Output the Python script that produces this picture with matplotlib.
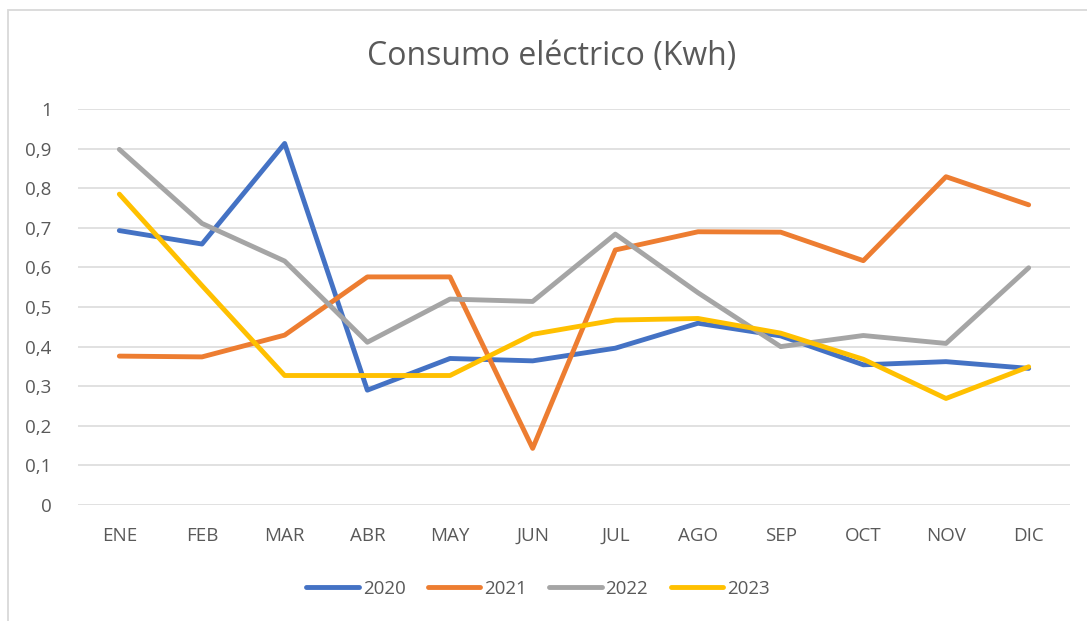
import matplotlib
matplotlib.use("Agg")
import matplotlib.pyplot as plt
from matplotlib.patches import Rectangle

months = ["ENE", "FEB", "MAR", "ABR", "MAY", "JUN", "JUL", "AGO", "SEP", "OCT", "NOV", "DIC"]
s2020 = [0.693, 0.659, 0.913, 0.290, 0.370, 0.364, 0.396, 0.459, 0.427, 0.354, 0.362, 0.345]
s2021 = [0.376, 0.374, 0.429, 0.576, 0.576, 0.143, 0.644, 0.690, 0.689, 0.617, 0.829, 0.758]
s2022 = [0.898, 0.711, 0.616, 0.411, 0.520, 0.514, 0.684, 0.536, 0.400, 0.428, 0.408, 0.599]
s2023 = [0.785, 0.554, 0.327, 0.327, 0.327, 0.431, 0.467, 0.471, 0.434, 0.368, 0.269, 0.349]
series_names = ["2020", "2021", "2022", "2023"]
colors = ["#4472C4", "#ED7D31", "#A5A5A5", "#FFC000"]
yticks = [0, 0.1, 0.2, 0.3, 0.4, 0.5, 0.6, 0.7, 0.8, 0.9, 1]
ytick_labels = ["0", "0,1", "0,2", "0,3", "0,4", "0,5", "0,6", "0,7", "0,8", "0,9", "1"]
title = "Consumo eléctrico (Kwh)"

W, H = 1087, 621
plt.rcParams['font.family'] = ['Open Sans', 'DejaVu Sans']
fig = plt.figure(figsize=(W / 100, H / 100), dpi=100)
fig.patch.set_facecolor("white")

# chart border (partially cropped in the reference)
fig.add_artist(Rectangle((8 / W, -0.1), 1.2, 1 - 10 / H + 0.1, transform=fig.transFigure,
                         fill=False, edgecolor="#D9D9D9", linewidth=1.3))

left, right, top, bottom = 78, 1070, 109, 505
ax = fig.add_axes([left / W, 1 - bottom / H, (right - left) / W, (bottom - top) / H])

x = list(range(len(months)))
all_series = [s2020, s2021, s2022, s2023]
for name, vals, c in zip(series_names, all_series, colors):
    ax.plot(x, vals, color=c, linewidth=3.5, label=name,
            solid_capstyle="round", solid_joinstyle="round", zorder=3)

ax.set_xlim(-0.5, len(months) - 0.5)
ax.set_ylim(0, 1)
ax.set_yticks(yticks)
ax.set_yticklabels(ytick_labels)
ax.set_xticks(x)
ax.set_xticklabels(months)
ax.tick_params(axis="both", length=0, labelsize=13.5, labelcolor="#595959")
ax.tick_params(axis="y", pad=19)
ax.tick_params(axis="x", pad=16)
ax.grid(axis="y", color="#D9D9D9", linewidth=1.1)
ax.set_axisbelow(True)
for sp in ax.spines.values():
    sp.set_visible(False)

fig.text(552 / W, 1 - 56 / H, title, ha="center", va="center", fontsize=23, color="#595959")

leg = fig.legend(loc="center", bbox_to_anchor=(538 / W, 1 - 589 / H), ncol=4, frameon=False,
                 fontsize=13.5, handlelength=2.8, columnspacing=1.2, handletextpad=0.2)
for t in leg.get_texts():
    t.set_color("#595959")
for h in leg.get_lines():
    h.set_linewidth(3.5)
    h.set_solid_capstyle("round")

fig.savefig("out.png", dpi=100, facecolor="white")
